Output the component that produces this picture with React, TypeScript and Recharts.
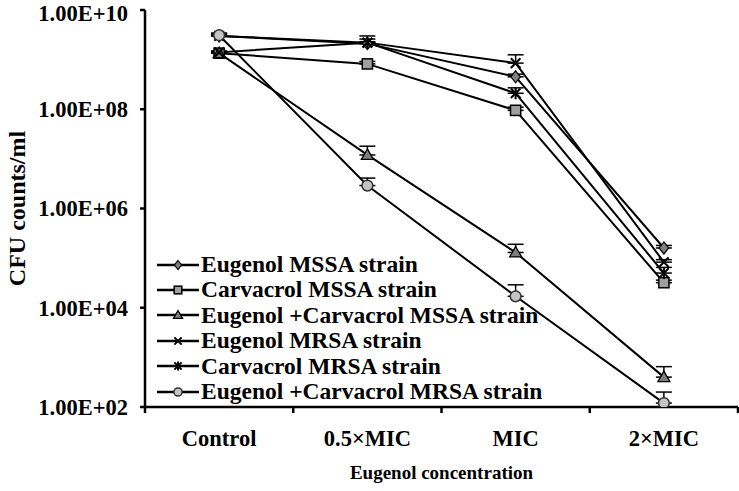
import React from 'react';
import { LineChart, Line, XAxis, YAxis, ErrorBar, Label } from 'recharts';

const FONT = '"Liberation Serif", "Times New Roman", serif';

const categories = ['Control', '0.5×MIC', 'MIC', '2×MIC'];
const yTicks = [1e2, 1e4, 1e6, 1e8, 1e10];

const seriesNames = [
  'Eugenol MSSA strain',
  'Carvacrol MSSA strain',
  'Eugenol +Carvacrol MSSA strain',
  'Eugenol MRSA strain',
  'Carvacrol MRSA strain',
  'Eugenol +Carvacrol MRSA strain',
];
const markerKinds = ['diamond', 'square', 'triangle', 'cross', 'star', 'circle'];

// CFU/ml
const eugenolMssa = [3.0e9, 2.1e9, 4.5e8, 1.6e5];
const carvacrolMssa = [1.35e9, 8.2e8, 9.5e7, 3.2e4];
const comboMssa = [1.35e9, 1.2e7, 1.3e5, 4.0e2];
const eugenolMrsa = [1.4e9, 2.2e9, 8.5e8, 8.3e4];
const carvacrolMrsa = [3.0e9, 2.2e9, 2.1e8, 5.0e4];
const comboMrsa = [3.1e9, 2.9e6, 1.7e4, 1.2e2];

// upper error (CFU/ml)
const eugenolMssaErr = [2e8, 2e8, 6e7, 2e4];
const carvacrolMssaErr = [1e8, 1e8, 1.5e7, 4e3];
const comboMssaErr = [1e8, 6e6, 6e4, 2.5e2];
const eugenolMrsaErr = [1e8, 4e8, 4e8, 1e4];
const carvacrolMrsaErr = [4e8, 8e8, 6e7, 1.5e4];
const comboMrsaErr = [3e8, 1.2e6, 1.2e4, 8e1];

const values = [eugenolMssa, carvacrolMssa, comboMssa, eugenolMrsa, carvacrolMrsa, comboMrsa];
const errors = [eugenolMssaErr, carvacrolMssaErr, comboMssaErr, eugenolMrsaErr, carvacrolMrsaErr, comboMrsaErr];

const data = categories.map((cat, i) => {
  const row: any = { cat };
  values.forEach((v, s) => {
    row['s' + s] = v[i];
    row['e' + s] = [0, errors[s][i]];
  });
  return row;
});

const W = 739;
const H = 491;
const LEFT = 145;
const RIGHT_M = 1;
const X_AXIS_H = 84;
const BAND = (W - LEFT - RIGHT_M) / categories.length;

function marker(kind: string, cx: number, cy: number, s: number) {
  switch (kind) {
    case 'diamond':
      return <polygon points={`${cx},${cy - s} ${cx + s * 0.8},${cy} ${cx},${cy + s} ${cx - s * 0.8},${cy}`} fill="#7f7f7f" stroke="#000" strokeWidth={1.2} />;
    case 'square':
      return <rect x={cx - s * 0.85} y={cy - s * 0.85} width={s * 1.7} height={s * 1.7} fill="#a0a0a0" stroke="#000" strokeWidth={1.5} />;
    case 'triangle':
      return <polygon points={`${cx},${cy - s} ${cx + s},${cy + s * 0.75} ${cx - s},${cy + s * 0.75}`} fill="#7f7f7f" stroke="#000" strokeWidth={1.3} />;
    case 'cross':
      return (
        <g stroke="#000" strokeWidth={2}>
          <line x1={cx - s * 0.8} y1={cy - s * 0.8} x2={cx + s * 0.8} y2={cy + s * 0.8} />
          <line x1={cx - s * 0.8} y1={cy + s * 0.8} x2={cx + s * 0.8} y2={cy - s * 0.8} />
        </g>
      );
    case 'star':
      return (
        <g stroke="#000" strokeWidth={2}>
          <line x1={cx - s * 0.8} y1={cy - s * 0.8} x2={cx + s * 0.8} y2={cy + s * 0.8} />
          <line x1={cx - s * 0.8} y1={cy + s * 0.8} x2={cx + s * 0.8} y2={cy - s * 0.8} />
          <line x1={cx} y1={cy - s} x2={cx} y2={cy + s} />
        </g>
      );
    default:
      return <circle cx={cx} cy={cy} r={s * 0.9} fill="#c4c4c4" stroke="#333" strokeWidth={1.5} />;
  }
}

const yFmt = (v: number) => {
  const e = Math.round(Math.log10(v));
  return '1.00E+' + (e < 10 ? '0' + e : String(e));
};

const XTick = (props: any) => {
  const { x, payload, index } = props;
  const axisY = H - X_AXIS_H;
  const left = x - BAND / 2;
  return (
    <g>
      <line x1={left} y1={axisY} x2={left} y2={axisY + 6} stroke="#000" strokeWidth={2.5} />
      {index === categories.length - 1 && (
        <line x1={x + BAND / 2} y1={axisY} x2={x + BAND / 2} y2={axisY + 6} stroke="#000" strokeWidth={2.5} />
      )}
      <text x={x} y={axisY + 39} textAnchor="middle" fontFamily={FONT} fontWeight="bold" fontSize={22.5} fill="#000">
        {payload.value}
      </text>
    </g>
  );
};

const YTitle = (props: any) => {
  const { viewBox } = props;
  const cx = 17;
  const cy = viewBox.y + viewBox.height / 2;
  return (
    <text x={cx} y={cy} transform={`rotate(-90, ${cx}, ${cy})`} textAnchor="middle" dominantBaseline="central"
      fontFamily={FONT} fontWeight="bold" fontSize={24} fill="#000">
      CFU counts/ml
    </text>
  );
};

const LegendBox = () => (
  <div style={{ position: 'absolute', left: 156, top: 252, fontFamily: FONT, fontWeight: 'bold', fontSize: 23.5, lineHeight: 1, color: '#000' }}>
    {seriesNames.map((name, i) => (
      <div key={name} style={{ display: 'flex', alignItems: 'center', height: 25.4, whiteSpace: 'nowrap' }}>
        <svg width={44} height={20} style={{ marginRight: 1 }}>
          <line x1={1} y1={10} x2={43} y2={10} stroke="#000" strokeWidth={2.5} />
          {marker(markerKinds[i], 22, 10, 4.5)}
        </svg>
        <span>{name}</span>
      </div>
    ))}
  </div>
);

export default function App() {
  return (
    <div style={{ position: 'absolute', left: 0, top: 0, width: W, height: H, background: '#fff' }}>
      <LineChart width={W} height={H} data={data} margin={{ top: 10, right: RIGHT_M, bottom: 0, left: 0 }}>
        <XAxis
          dataKey="cat"
          height={X_AXIS_H}
          padding={{ left: BAND / 2, right: BAND / 2 }}
          axisLine={{ stroke: '#000', strokeWidth: 2.5 }}
          tickLine={false}
          tick={<XTick />}
          interval={0}
        >
          <Label value="Eugenol concentration" position="insideBottom" offset={12}
            style={{ fontFamily: FONT, fontWeight: 'bold', fontSize: 19, fill: '#000' }} />
        </XAxis>
        <YAxis
          width={LEFT}
          scale="log"
          domain={[1e2, 1e10]}
          ticks={yTicks}
          allowDataOverflow
          tickFormatter={yFmt}
          axisLine={{ stroke: '#000', strokeWidth: 2.5 }}
          tickLine={{ stroke: '#000', strokeWidth: 2.5 }}
          tickSize={5}
          tickMargin={12}
          tick={{ fontFamily: FONT, fontWeight: 'bold', fontSize: 22.5, fill: '#000' }}
        >
          <Label content={<YTitle />} />
        </YAxis>
        {seriesNames.map((name, s) => (
          <Line
            key={name}
            name={name}
            dataKey={'s' + s}
            stroke="#000"
            strokeWidth={2}
            isAnimationActive={false}
            dot={(p: any) => <g key={name + p.index}>{marker(markerKinds[s], p.cx, p.cy, 6)}</g>}
            activeDot={false}
          >
            <ErrorBar dataKey={'e' + s} width={8} stroke="#000" strokeWidth={1.5} direction="y" />
          </Line>
        ))}
      </LineChart>
      <LegendBox />
    </div>
  );
}
